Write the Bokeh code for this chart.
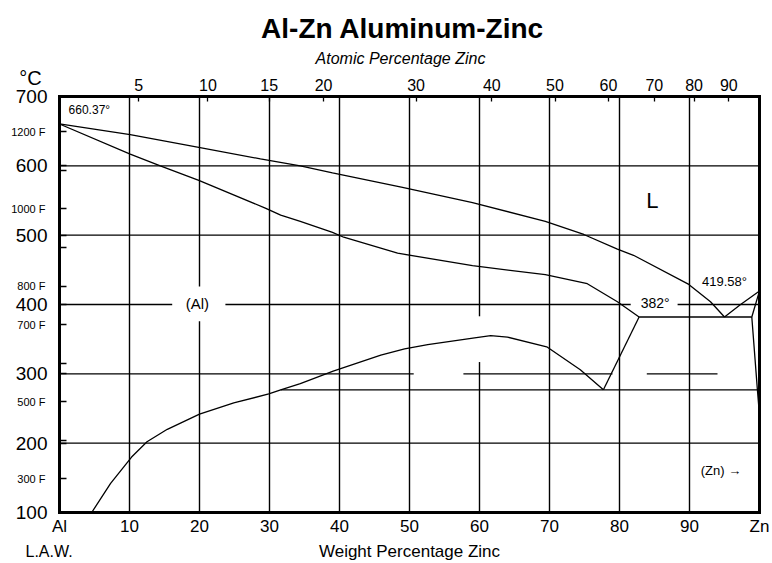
from bokeh.plotting import figure
from bokeh.models import LinearAxis, FixedTicker, Label, Range1d
from bokeh.embed import file_html
from bokeh.resources import INLINE

FONT = "Liberation Sans"

# ---------------- data (wt% Zn, deg C) ----------------
liquidus_wt = [0, 10.1, 19.7, 28.7, 34.4, 39.0, 49.0, 59.0, 69.4, 74.9, 79.7, 82.0, 89.9, 93.0, 95.0]
liquidus_T = [660.37, 645, 627, 610, 600, 590, 569, 547, 520, 501, 480, 471, 429, 404, 382]
zn_liquidus_wt = [95.0, 97.3, 100]
zn_liquidus_T = [382, 400, 419.58]
al_solidus_wt = [0, 10.1, 14.4, 19.9, 29.4, 31.6, 34.4, 39.0, 40.6, 48.3, 59.0, 69.4, 75.4, 79.7, 82.8]
al_solidus_T = [660.37, 617, 600, 579, 539, 529, 520, 504, 497, 474, 456, 443, 430, 404, 382]
eutectic_wt = [82.8, 98.9]
eutectic_T = [382, 382]
zn_solidus_wt = [98.9, 100]
zn_solidus_T = [382, 419.58]
zn_solvus_wt = [98.9, 99.7, 100]
zn_solvus_T = [382, 277, 240]
al_solvus_wt = [4.6, 7.3, 10.3, 12.5, 15.4, 20.0, 24.9, 29.9, 31.6, 34.4, 39.1, 45.9, 49.3, 52.6,
                59.3, 61.6, 64.0, 69.6, 74.4, 77.7]
al_solvus_T = [100, 142, 180, 202, 220, 242, 258, 271, 277, 286, 304, 327, 336, 342,
               352, 355, 353, 339, 306, 277]
al_prime_solvus_wt = [77.7, 82.8]
al_prime_solvus_T = [277, 382]
eutectoid_wt = [31.6, 99.7]
eutectoid_T = [277, 277]

# axes / ticks
WT_MIN, WT_MAX = 0, 100
T_MIN, T_MAX = 100, 700
wt_ticks = [0, 10, 20, 30, 40, 50, 60, 70, 80, 90, 100]
wt_tick_names = {0: "Al", 100: "Zn"}
at_pct_ticks = [5, 10, 15, 20, 30, 40, 50, 60, 70, 80, 90]
C_ticks = [100, 200, 300, 400, 500, 600, 700]
F_ticks = [300, 400, 500, 600, 700, 800, 900, 1000, 1100, 1200]
F_labelled = [1200, 1000, 800, 700, 500, 300]
M_AL, M_ZN = 26.98, 65.38

# grid lines (full) and broken grid lines (pieces)
grid_wt_full = [10, 30, 40, 50, 70, 80, 90]
grid_T_full = [200, 500, 600]
grid_wt_broken = {20: [(100, 376), (426, 700)], 60: [(100, 317), (383, 700)]}
grid_T_broken = {300: [(0, 50.6), (57.7, 79.0), (83.9, 94.0)],
                 400: [(0, 16.1), (23.7, 81.6), (88.3, 100)]}

# in-diagram annotations (text, wt, T, align, size)
texts = [("660.37°", 1.3, 680, "left", "12px"),
         ("(Al)", 19.7, 401, "center", "15px"),
         ("382°", 85.1, 402, "center", "14px"),
         ("419.58°", 95.0, 433, "center", "13px"),
         ("L", 84.7, 550, "center", "22px"),
         ("(Zn) →", 91.6, 160, "left", "13px")]

# ---------------- layout (pixels) ----------------
W, H = 772, 563
BOX_L, BOX_T, BOX_W, BOX_H = 59, 96, 700, 416
PX_WT = BOX_W / (WT_MAX - WT_MIN)
PX_T = BOX_H / (T_MAX - T_MIN)


def px(x, y):
    """pixel position on the canvas -> data coordinates (for outside texts)"""
    return WT_MIN + (x - BOX_L) / PX_WT, T_MAX - (y - BOX_T) / PX_T


def at_to_wt(a):
    return round(100 * a * M_ZN / (a * M_ZN + (100 - a) * M_AL), 3)


def f_to_c(f):
    return round((f - 32) * 5 / 9, 3)


x0, y1 = px(0, 0)
x1, y0 = px(W, H)
p = figure(width=W, height=H, x_range=Range1d(x0, x1), y_range=Range1d(y0, y1),
           x_axis_type=None, y_axis_type=None, output_backend="svg", toolbar_location=None,
           min_border=0)
p.outline_line_color = None
p.background_fill_color = "white"
p.border_fill_color = "white"

# grid lines
gx, gy = [], []
for w in grid_wt_full:
    gx.append([w, w]); gy.append([T_MIN, T_MAX])
for t in grid_T_full:
    gx.append([WT_MIN, WT_MAX]); gy.append([t, t])
for w, spans in grid_wt_broken.items():
    for a, b in spans:
        gx.append([w, w]); gy.append([a, b])
for t, spans in grid_T_broken.items():
    for a, b in spans:
        gx.append([a, b]); gy.append([t, t])
p.multi_line(gx, gy, line_color="black", line_width=1.4)

# phase boundaries
for wx, ty in [(liquidus_wt, liquidus_T), (zn_liquidus_wt, zn_liquidus_T),
               (al_solidus_wt, al_solidus_T), (eutectic_wt, eutectic_T),
               (zn_solidus_wt, zn_solidus_T), (zn_solvus_wt, zn_solvus_T),
               (al_solvus_wt, al_solvus_T), (al_prime_solvus_wt, al_prime_solvus_T),
               (eutectoid_wt, eutectoid_T)]:
    p.line(wx, ty, line_color="black", line_width=1.3)


def style_axis(ax, size, standoff, tick_in=0):
    ax.axis_line_color = "black"
    ax.axis_line_width = 3
    ax.axis_line_cap = "square"
    ax.major_tick_in = tick_in
    ax.major_tick_out = 0
    ax.major_tick_line_color = "black"
    ax.major_tick_line_width = 1.3
    ax.minor_tick_line_color = None
    ax.major_label_standoff = standoff
    ax.major_label_text_font = FONT
    ax.major_label_text_font_size = size
    ax.major_label_text_color = "black"


# bottom axis (weight %) drawn on the 100 C line
bottom = LinearAxis(ticker=FixedTicker(ticks=wt_ticks), major_label_overrides=wt_tick_names,
                    fixed_location=T_MIN, bounds=(WT_MIN, WT_MAX))
style_axis(bottom, "17px", 4)
p.add_layout(bottom, "below")

# top axis (atomic %) drawn on the 700 C line
top_ticks = [at_to_wt(a) for a in at_pct_ticks]
top = LinearAxis(ticker=FixedTicker(ticks=top_ticks),
                 major_label_overrides={t: str(a) for t, a in zip(top_ticks, at_pct_ticks)},
                 fixed_location=T_MAX, bounds=(WT_MIN, WT_MAX))
style_axis(top, "16px", 6, tick_in=5)
p.add_layout(top, "above")

# left axis (deg C, with deg F ticks)
F_c = [f_to_c(f) for f in F_ticks]
left = LinearAxis(ticker=FixedTicker(ticks=C_ticks + F_c),
                  major_label_overrides={c: "" for c in F_c},
                  fixed_location=WT_MIN, bounds=(T_MIN, T_MAX))
style_axis(left, "19px", 12, tick_in=7)
p.add_layout(left, "left")

# right frame edge
right = LinearAxis(ticker=FixedTicker(ticks=[]), fixed_location=WT_MAX, bounds=(T_MIN, T_MAX))
style_axis(right, "1px", 0)
p.add_layout(right, "right")


def add_text(text, x, y, size, align="center", style="normal"):
    p.add_layout(Label(x=x, y=y, text=text, text_align=align, text_baseline="middle",
                       text_font=FONT, text_font_size=size, text_font_style=style,
                       text_color="black"))


# Fahrenheit labels
fx, _ = px(45, 0)
for f in F_labelled:
    add_text(f"{f} F", fx, f_to_c(f), "11px", align="right")

# outside texts (centres in canvas pixels)
add_text("Al-Zn  Aluminum-Zinc", *px(406, 28), "28px", style="bold")
add_text("Atomic Percentage Zinc", *px(400, 58), "16px", style="italic")
add_text("°C", *px(30, 77), "20px")
add_text("L.A.W.", *px(25, 551), "16px", align="left")
add_text("Weight Percentage Zinc", *px(409, 551), "17px")

# in-diagram texts
for txt, wx, ty, al, fs in texts:
    add_text(txt, wx, ty, fs, align=al)

open("out.html", "w").write(file_html(p, INLINE))
